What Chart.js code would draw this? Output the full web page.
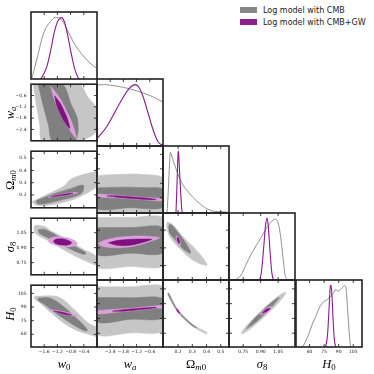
<!DOCTYPE html>
<html lang="en">
<head>
  <meta charset="UTF-8" />
  <title>Log model: CMB vs CMB+GW</title>
  <script src="https://cdn.jsdelivr.net/npm/chart.js"></script>
  <style>
    html, body { margin: 0; padding: 0; background: #fff; }
    #fig { position: relative; width: 374px; height: 374px; overflow: hidden; }
    #fig canvas { position: absolute; }
    .ttl { position: absolute; font-family: "Liberation Serif", serif; font-size: 12.5px; color: #000;
           white-space: nowrap; line-height: 1; transform: translate(-50%, -50%); }
    .ttl.y { transform: translate(-50%, -50%) rotate(-90deg); }
    .ttl sub { font-size: 70%; vertical-align: -0.28em; line-height: 0; }
    .leg { position: absolute; left: 240px; top: 4px; font-family: "DejaVu Sans", sans-serif; font-size: 8px; color: #222; }
    .leg div { display: flex; align-items: center; height: 12px; }
    .leg span { display: inline-block; width: 17px; height: 6px; margin-right: 6px; }
  </style>
</head>
<body>
<div id="fig"></div>

<script>
  // ---- axes: limits, ticks, tick labels ----
  const W0_LIM = [-2.0, 0.0];
  const W0_TICKS = [-1.6, -1.2, -0.8, -0.4];
  const W0_TICK_LABELS = ['\u22121.6', '\u22121.2', '\u22120.8', '\u22120.4'];
  const WA_LIM = [-3.0, 0.0];
  const WA_TICKS = [-2.4, -1.8, -1.2, -0.6];
  const WA_TICK_LABELS = ['\u22122.4', '\u22121.8', '\u22121.2', '\u22120.6'];
  const OM_LIM = [0.094, 0.558];
  const OM_TICKS = [0.2, 0.3, 0.4, 0.5];
  const OM_TICK_LABELS = ['0.2', '0.3', '0.4', '0.5'];
  const S8_LIM = [0.628, 1.195];
  const S8_TICKS = [0.75, 0.90, 1.05];
  const S8_TICK_LABELS = ['0.75', '0.90', '1.05'];
  const H0_LIM = [46, 114];
  const H0_TICKS = [60, 75, 90, 105];
  const H0_TICK_LABELS = ['60', '75', '90', '105'];
  const DENSITY_LIM = [0, 1.08];

  const PARAM_TITLES = ['<i>w</i><sub>0</sub>', '<i>w</i><sub><i>a</i></sub>', '\u03A9<sub><i>m</i>0</sub>',
                        '<i>\u03C3</i><sub>8</sub>', '<i>H</i><sub>0</sub>'];
  const LEGEND_LABELS = ['Log model with CMB', 'Log model with CMB+GW'];

  // ---- 1D marginals [value, relative density] ----
  const W0_1D_CMB = [[-1.99,0],[-1.96,0.04],[-1.88,0.20],[-1.78,0.41],[-1.68,0.63],[-1.58,0.79],[-1.42,0.92],[-1.27,0.99],
                     [-1.17,0.99],[-1.02,0.91],[-0.87,0.76],[-0.72,0.60],[-0.52,0.44],[-0.31,0.31],[-0.11,0.21],[0.0,0.17]];
  const W0_1D_GW = [[-1.72,0],[-1.68,0.02],[-1.52,0.20],[-1.40,0.47],[-1.30,0.74],[-1.20,0.92],[-1.08,0.99],[-0.98,0.91],
                    [-0.88,0.68],[-0.78,0.41],[-0.68,0.17],[-0.57,0.02],[-0.53,0]];
  const WA_1D_CMB = [[-3,0.985],[-2.7,0.99],[-2.4,0.98],[-2.1,0.965],[-1.8,0.945],[-1.5,0.92],[-1.2,0.89],[-0.9,0.855],
                     [-0.6,0.815],[-0.3,0.765],[0,0.71]];
  const WA_1D_GW = [[-3,0.12],[-2.56,0.31],[-2.18,0.55],[-1.80,0.79],[-1.5,0.94],[-1.27,0.99],[-1.08,0.94],[-0.9,0.79],
                    [-0.67,0.52],[-0.44,0.25],[-0.21,0.06],[0,0.01]];
  const OM_1D_CMB = [[0.122,0],[0.130,0.3],[0.138,0.7],[0.146,0.98],[0.152,0.95],[0.165,0.85],[0.189,0.69],[0.212,0.55],
                     [0.235,0.45],[0.271,0.34],[0.306,0.25],[0.353,0.15],[0.401,0.07],[0.447,0.03],[0.507,0.02],[0.558,0.01]];
  const OM_1D_GW = [[0.185,0],[0.190,0.3],[0.195,0.65],[0.200,0.97],[0.2025,1.0],[0.206,0.88],[0.212,0.6],[0.219,0.3],
                    [0.226,0.06],[0.230,0]];
  const S8_1D_CMB = [[0.680,0],[0.690,0.01],[0.732,0.08],[0.775,0.25],[0.817,0.41],[0.860,0.55],[0.902,0.68],[0.945,0.82],
                     [0.987,0.93],[1.024,0.98],[1.053,0.90],[1.073,0.68],[1.092,0.36],[1.109,0.09],[1.129,0]];
  const S8_1D_GW = [[0.893,0],[0.908,0.15],[0.925,0.5],[0.942,0.88],[0.955,1.0],[0.965,0.88],[0.979,0.5],[0.995,0.13],[1.009,0]];
  const H0_1D_CMB = [[50,0],[53.3,0.02],[58.4,0.18],[63.6,0.40],[67.4,0.53],[68.7,0.59],[73.8,0.72],[78.9,0.77],[84.1,0.86],
                     [87.1,0.93],[89.2,0.90],[92.7,0.94],[96.1,0.99],[97.8,0.91],[99.5,0.53],[101.2,0.16],[102.2,0]];
  const H0_1D_GW = [[76.5,0],[78.5,0.2],[80,0.6],[81.2,0.95],[82,1.0],[83,0.85],[84.2,0.45],[85.5,0.12],[87,0]];

  // ---- 2D contour outlines (95% then 68%) ----
  const W0WA_CMB_95 = [[-1.94,0.05],[-0.58,0.05],[-0.27,-0.69],[0.05,-1.45],[0.05,-2.4],[-0.6,-3.05],[-1.64,-3.05],[-1.74,-2.12],[-1.84,-1.07]];
  const W0WA_CMB_68 = [[-1.79,0.05],[-1.08,0.05],[-0.78,-1.07],[-0.58,-1.97],[-0.68,-3.05],[-1.33,-3.05],[-1.48,-2.12],[-1.64,-1.07]];
  const W0WA_GW_95 = [[-1.404,-0.09],[-1.128,-0.735],[-0.922,-1.423],[-0.739,-2.126],[-0.626,-2.872],[-0.901,-2.227],[-1.109,-1.539],[-1.290,-0.836]];
  const W0WA_GW_68 = [[-1.283,-0.617],[-1.112,-1.015],[-0.990,-1.443],[-0.885,-1.880],[-0.828,-2.346],[-0.999,-1.947],[-1.121,-1.520],[-1.227,-1.082]];

  const W0OM_CMB_95 = [[-1.97,0.143],[-1.586,0.194],[-1.232,0.239],[-0.98,0.276],[-0.828,0.322],[-0.576,0.354],[-0.273,0.377],[0,0.396],
                       [0.08,0.40],[0.08,0.285],[0,0.265],[-0.323,0.212],[-0.677,0.166],[-1.081,0.134],[-1.485,0.115],[-1.838,0.115]];
  const W0OM_CMB_68 = [[-1.838,0.154],[-1.283,0.212],[-0.778,0.253],[-0.424,0.281],[-0.424,0.23],[-0.576,0.196],[-1.081,0.157],[-1.586,0.127],[-1.808,0.127]];
  const W0OM_GW_95 = [[-1.485,0.181],[-1.258,0.198],[-1.03,0.208],[-0.803,0.216],[-0.576,0.218],[-0.803,0.202],[-1.03,0.192],[-1.258,0.184]];
  const W0OM_GW_68 = [[-1.384,0.186],[-1.22,0.197],[-1.056,0.204],[-0.891,0.209],[-0.727,0.212],[-0.891,0.201],[-1.056,0.194],[-1.22,0.189]];

  const WAOM_CMB_95 = [[-3.05,0.352],[-2.0,0.362],[-1.0,0.362],[0.05,0.332],[0.05,0.2],[0.05,0.104],[-1.5,0.104],[-3.05,0.104],[-3.05,0.2]];
  const WAOM_CMB_68 = [[-3.05,0.268],[-2.0,0.273],[-1.0,0.27],[0.05,0.255],[0.05,0.135],[-1.5,0.13],[-3.05,0.128]];
  const WAOM_GW_95 = [[-3.05,0.2275],[-2,0.2157],[-1,0.2033],[0.05,0.1915],[0.05,0.1775],[-1,0.1873],[-2,0.1977],[-3.05,0.2085]];
  const WAOM_GW_68 = [[-2.55,0.2129],[-2.0,0.2117],[-1.4,0.2049],[-0.8,0.1979],[-0.3,0.1875],[-0.8,0.1879],[-1.4,0.1949],[-2.0,0.2017]];

  const W0S8_CMB_95 = [[-1.899,1.116],[-1.84,1.128],[-1.58,1.112],[-1.424,1.075],[-0.919,0.988],[-0.515,0.903],[0.05,0.795],[0.05,0.725],
                       [-0.414,0.776],[-0.919,0.861],[-1.424,0.96],[-1.828,1.031],[-1.91,1.08]];
  const W0S8_CMB_68 = [[-1.778,1.082],[-1.576,1.082],[-1.121,1.003],[-0.616,0.903],[-0.333,0.847],[-0.414,0.832],[-0.919,0.903],[-1.424,0.988],[-1.747,1.045]];
  const W0S8_GW_95 = [[-1.475,0.975],[-1.40,1.0],[-1.17,1.008],[-0.85,0.995],[-0.65,0.965],[-0.596,0.937],[-0.72,0.912],[-0.95,0.909],[-1.25,0.925],[-1.44,0.950]];
  const W0S8_GW_68 = [[-1.323,0.965],[-1.25,0.985],[-1.05,0.988],[-0.85,0.970],[-0.768,0.950],[-0.85,0.930],[-1.05,0.926],[-1.25,0.940]];

  const WAS8_CMB_95 = [[-3.05,1.156],[-1.5,1.158],[0.05,1.152],[0.05,0.95],[0.05,0.75],[-1.5,0.742],[-3.05,0.742],[-3.05,0.95]];
  const WAS8_CMB_68 = [[-3.05,1.071],[-1.5,1.072],[0.05,1.068],[0.05,0.862],[-1.5,0.855],[-3.05,0.85]];
  const WAS8_GW_95 = [[-2.95,0.94],[-2.6,0.968],[-2.0,0.99],[-1.3,1.0],[-0.6,0.997],[-0.15,0.986],[-0.45,0.962],[-1.1,0.925],[-1.8,0.902],[-2.5,0.905],[-2.85,0.92]];
  const WAS8_GW_68 = [[-2.49,0.943],[-2.1,0.962],[-1.5,0.972],[-0.9,0.975],[-0.51,0.972],[-0.8,0.952],[-1.5,0.922],[-2.1,0.922]];

  const OMS8_CMB_95 = [[0.124,1.118],[0.155,1.105],[0.237,0.991],[0.331,0.878],[0.401,0.77],[0.401,0.75],[0.307,0.793],[0.214,0.892],[0.143,0.991],[0.12,1.076]];
  const OMS8_CMB_68 = [[0.139,1.099],[0.16,1.09],[0.20,1.03],[0.25,0.95],[0.284,0.878],[0.288,0.855],[0.27,0.86],[0.22,0.91],[0.175,0.975],[0.143,1.02],[0.134,1.07]];
  const OMS8_GW_95 = [[0.190,1.003],[0.207,0.985],[0.216,0.950],[0.214,0.915],[0.200,0.925],[0.188,0.965],[0.186,0.99]];
  const OMS8_GW_68 = [[0.196,0.990],[0.205,0.98],[0.210,0.955],[0.210,0.937],[0.203,0.94],[0.196,0.96],[0.193,0.98]];

  const W0H0_CMB_95 = [[-1.879,102],[-1.27,102],[-1.0,97.5],[-0.6,84],[-0.25,72],[0.05,66],[0.05,57.5],[-0.3,60.5],[-0.6,64],[-1.0,72],[-1.4,84],[-1.75,95],[-1.899,99]];
  const W0H0_CMB_68 = [[-1.778,99.8],[-1.424,99.8],[-1.0,90],[-0.6,77],[-0.29,65],[-0.35,63.5],[-0.7,70],[-1.2,82],[-1.6,93],[-1.78,97.5]];
  const W0H0_GW_95 = [[-1.50,87.2],[-1.25,86.3],[-1.0,84.7],[-0.75,82.6],[-0.56,80.2],[-0.75,80.6],[-1.0,82.1],[-1.25,84.3]];
  const W0H0_GW_68 = [[-1.323,85.6],[-1.18,85.1],[-1.045,84.2],[-0.9,82.8],[-0.768,81.2],[-0.9,81.6],[-1.045,82.6],[-1.18,83.9]];

  const WAH0_CMB_95 = [[-3.05,107.2],[-1.5,107.2],[0.05,107.2],[0.05,85],[0.05,62.5],[-1.5,60.3],[-3.05,59],[-3.05,85]];
  const WAH0_CMB_68 = [[-3.05,96.2],[-1.5,96],[0.05,94.5],[0.05,76],[-1.5,74],[-3.05,72]];
  const WAH0_GW_95 = [[-3.05,83.0],[-2.0,84.6],[-1.0,86.2],[-0.3,87.8],[0.05,88.0],[0.05,85.0],[-0.3,85.5],[-1.0,83.6],[-2.0,81.5],[-3.05,79.6]];
  const WAH0_GW_68 = [[-2.3,82.4],[-1.8,83.9],[-1.3,84.9],[-0.7,85.9],[-0.3,86.2],[-0.7,84.8],[-1.3,83.4],[-1.8,82.4]];

  const OMH0_CMB_95 = [[0.131,100.9],[0.1368,100.8],[0.1656,92.24],[0.2051,82.75],[0.2544,75.26],[0.3038,69.03],[0.3532,64.49],[0.403,60.7],
                       [0.400,59.3],[0.3468,62.91],[0.2962,67.57],[0.2456,73.94],[0.1949,81.65],[0.1544,91.36],[0.1252,100.0]];
  const OMH0_CMB_68 = [[0.1339,100.6],[0.1628,92.02],[0.2026,82.48],[0.2522,74.93],[0.3019,68.67],[0.33,65.6],[0.3281,65.3],[0.2981,67.94],
                       [0.2478,74.27],[0.1974,81.92],[0.1572,91.58],[0.1281,100.2]];
  const OMH0_GW_95 = [[0.182,86.6],[0.1967,84.56],[0.2058,82.65],[0.2137,81.3],[0.220,79.1],[0.2053,80.2],[0.1962,81.35],[0.1883,83.44]];
  const OMH0_GW_68 = [[0.189,84.9],[0.1972,83.75],[0.2036,82.35],[0.2093,81.45],[0.213,80.3],[0.2047,80.85],[0.1984,81.65],[0.1928,83.15]];

  const S8H0_CMB_95 = [[0.733,59.3],[0.765,60.6],[0.846,67.7],[0.9435,77.9],[1.037,88.8],[1.102,97.8],[1.116,101.5],[1.084,100.2],[1.003,93.1],[0.905,82.9],[0.812,72.0],[0.747,63.0]];
  const S8H0_CMB_68 = [[0.776,64.4],[0.857,71.1],[0.929,78.9],[0.998,87.1],[1.059,96.4],[0.978,89.7],[0.906,81.9],[0.837,73.7]];
  const S8H0_GW_95 = [[0.893,78.8],[0.925,79.6],[0.96,81.8],[0.99,84.6],[1.002,87.3],[0.975,86.8],[0.94,84.4],[0.905,81.2]];
  const S8H0_GW_68 = [[0.913,80.3],[0.94,81.2],[0.965,83.0],[0.982,85.3],[0.955,84.6],[0.93,82.6]];

  // ---- styles ----
  const GRAY_95 = '#c6c6c6', GRAY_68 = '#808080', PURPLE_95 = '#d9a2d9', PURPLE_68 = '#800f80';
  const LINE_CMB = '#858585', LINE_GW = '#8b1a8b';
  const LEGEND_COLORS = ['#868686', '#8e1f8e'];

  // ---- layout ----
  const COL_X = [31, 97, 163, 229, 296], ROW_Y = [12, 79, 146, 213, 280];
  const CW = 66, CH = 67, M = 2, AX_L = 29, AX_B = 25, TICK = 3;

  const AXES = [
    { lim: W0_LIM, ticks: W0_TICKS, labels: W0_TICK_LABELS },
    { lim: WA_LIM, ticks: WA_TICKS, labels: WA_TICK_LABELS },
    { lim: OM_LIM, ticks: OM_TICKS, labels: OM_TICK_LABELS },
    { lim: S8_LIM, ticks: S8_TICKS, labels: S8_TICK_LABELS },
    { lim: H0_LIM, ticks: H0_TICKS, labels: H0_TICK_LABELS }
  ];
  const CURVES = [[W0_1D_CMB, W0_1D_GW], [WA_1D_CMB, WA_1D_GW], [OM_1D_CMB, OM_1D_GW], [S8_1D_CMB, S8_1D_GW], [H0_1D_CMB, H0_1D_GW]];
  const CONTOURS = {
    '1,0': [W0WA_CMB_95, W0WA_CMB_68, W0WA_GW_95, W0WA_GW_68],
    '2,0': [W0OM_CMB_95, W0OM_CMB_68, W0OM_GW_95, W0OM_GW_68],
    '2,1': [WAOM_CMB_95, WAOM_CMB_68, WAOM_GW_95, WAOM_GW_68],
    '3,0': [W0S8_CMB_95, W0S8_CMB_68, W0S8_GW_95, W0S8_GW_68],
    '3,1': [WAS8_CMB_95, WAS8_CMB_68, WAS8_GW_95, WAS8_GW_68],
    '3,2': [OMS8_CMB_95, OMS8_CMB_68, OMS8_GW_95, OMS8_GW_68],
    '4,0': [W0H0_CMB_95, W0H0_CMB_68, W0H0_GW_95, W0H0_GW_68],
    '4,1': [WAH0_CMB_95, WAH0_CMB_68, WAH0_GW_95, WAH0_GW_68],
    '4,2': [OMH0_CMB_95, OMH0_CMB_68, OMH0_GW_95, OMH0_GW_68],
    '4,3': [S8H0_CMB_95, S8H0_CMB_68, S8H0_GW_95, S8H0_GW_68]
  };

  const fig = document.getElementById('fig');
  const toPts = pts => pts.map(([x, y]) => ({ x, y }));

  // keep fills inside the panel
  const clipPlugin = {
    id: 'panelClip',
    beforeDatasetsDraw(chart) {
      const { ctx, chartArea: a } = chart;
      ctx.save();
      ctx.beginPath();
      ctx.rect(a.left, a.top, a.right - a.left, a.bottom - a.top);
      ctx.clip();
    },
    afterDatasetsDraw(chart) { chart.ctx.restore(); }
  };

  // frame + inward ticks on each panel
  const framePlugin = {
    id: 'frame',
    afterDraw(chart, args, opts) {
      const { ctx, chartArea: a } = chart;
      const { x, y } = chart.scales;
      ctx.save();
      ctx.strokeStyle = '#111';
      ctx.lineWidth = 0.8;
      ctx.beginPath();
      opts.xTicks.forEach(v => {
        const p = x.getPixelForValue(v);
        ctx.moveTo(p, a.top); ctx.lineTo(p, a.top + TICK);
        ctx.moveTo(p, a.bottom); ctx.lineTo(p, a.bottom - TICK);
      });
      (opts.yTicks || []).forEach(v => {
        const p = y.getPixelForValue(v);
        ctx.moveTo(a.left, p); ctx.lineTo(a.left + TICK, p);
        ctx.moveTo(a.right, p); ctx.lineTo(a.right - TICK, p);
      });
      ctx.stroke();
      ctx.strokeStyle = '#222';
      ctx.lineWidth = 1.6;
      ctx.strokeRect(a.left, a.top, a.right - a.left, a.bottom - a.top);
      ctx.restore();
    }
  };

  function scaleOpts(ax, show, horizontal) {
    return {
      type: 'linear', min: ax.lim[0], max: ax.lim[1], display: show,
      grid: { display: false, drawTicks: false }, border: { display: false },
      ticks: {
        autoSkip: false, maxRotation: 0, minRotation: 0, padding: horizontal ? 2.5 : 4.5,
        color: '#222', font: { family: 'DejaVu Sans', size: 4.5 },
        callback: (v, i) => ax.labels ? ax.labels[i] : ''
      },
      afterBuildTicks: s => { s.ticks = (ax.ticks || []).map(v => ({ value: v })); },
      afterFit: s => {
        if (!show) return;
        if (horizontal) s.height = AX_B; else s.width = AX_L;
      }
    };
  }

  function makeCell(r, c) {
    const diag = r === c;
    const leftAx = c === 0 && r > 0;
    const botAx = r === AXES.length - 1;
    const cv = document.createElement('canvas');
    cv.width = CW + 2 * M + (leftAx ? AX_L : 0);
    cv.height = CH + 2 * M + (botAx ? AX_B : 0);
    cv.style.left = (COL_X[c] - M - (leftAx ? AX_L : 0)) + 'px';
    cv.style.top = (ROW_Y[r] - M) + 'px';
    fig.appendChild(cv);

    let datasets;
    if (diag) {
      const [cmb, gw] = CURVES[c];
      // lower "order" is painted on top
      datasets = [
        { data: toPts(cmb), borderColor: LINE_CMB, borderWidth: 0.9, order: 2 },
        { data: toPts(gw), borderColor: LINE_GW, borderWidth: 1.1, order: 1 }
      ].map(d => Object.assign(d, { cubicInterpolationMode: 'monotone', fill: false }));
    } else {
      const fills = [GRAY_95, GRAY_68, PURPLE_95, PURPLE_68];
      datasets = CONTOURS[r + ',' + c].map((s, i) => ({
        data: toPts(s.concat([s[0]])), backgroundColor: fills[i], borderColor: fills[i],
        borderWidth: 0.5, fill: 'shape', tension: 0.35, order: fills.length - i
      }));
    }
    datasets.forEach(d => Object.assign(d, { showLine: true, pointRadius: 0, capBezierPoints: false }));

    const yAx = diag ? { lim: DENSITY_LIM } : AXES[r];
    new Chart(cv, {
      type: 'scatter',
      data: { datasets },
      options: {
        responsive: false, animation: false, events: [],
        layout: { padding: M },
        scales: { x: scaleOpts(AXES[c], botAx, true), y: scaleOpts(yAx, leftAx, false) },
        plugins: {
          legend: { display: false }, tooltip: { enabled: false },
          frame: { xTicks: AXES[c].ticks, yTicks: diag ? null : AXES[r].ticks }
        }
      },
      plugins: [clipPlugin, framePlugin]
    });
  }

  for (let r = 0; r < AXES.length; r++)
    for (let c = 0; c <= r; c++) makeCell(r, c);

  // axis titles
  PARAM_TITLES.forEach((t, i) => {
    const xt = document.createElement('div');
    xt.className = 'ttl';
    xt.innerHTML = t;
    xt.style.left = (COL_X[i] + CW / 2) + 'px';
    xt.style.top = '364px';
    fig.appendChild(xt);
    if (i > 0) {
      const yt = document.createElement('div');
      yt.className = 'ttl y';
      yt.innerHTML = t;
      yt.style.left = '10px';
      yt.style.top = (ROW_Y[i] + CH / 2) + 'px';
      fig.appendChild(yt);
    }
  });

  // legend
  const leg = document.createElement('div');
  leg.className = 'leg';
  LEGEND_LABELS.forEach((lab, i) => {
    const row = document.createElement('div');
    row.innerHTML = `<span style="background:${LEGEND_COLORS[i]}"></span>${lab}`;
    leg.appendChild(row);
  });
  fig.appendChild(leg);
</script>
</body>
</html>
